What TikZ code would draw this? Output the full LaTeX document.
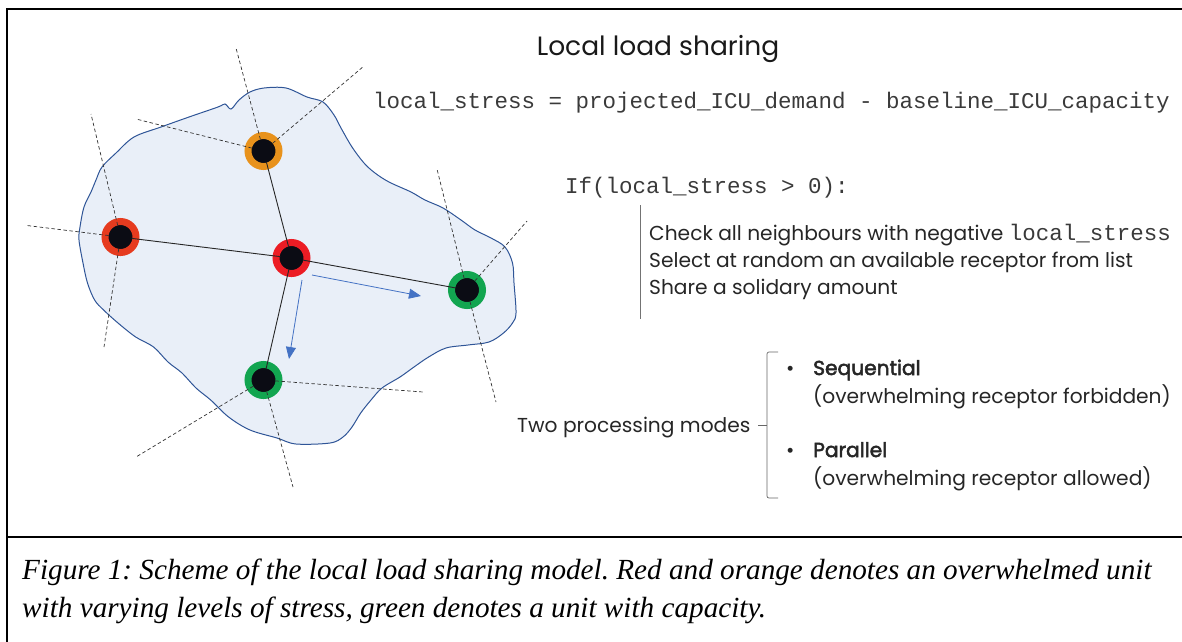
\documentclass[tikz,border=0pt]{standalone}
\usepackage{fontspec}
\setmainfont{Poppins}
\newfontfamily\codefont{Liberation Mono}
\newfontfamily\capfont{Liberation Serif}
\newfontfamily\medfont{Poppins}[FakeBold=2.5]
\usetikzlibrary{arrows.meta}
\frenchspacing
\definecolor{blobfill}{HTML}{E9EFF8}
\definecolor{blobline}{HTML}{2F5597}
\definecolor{arrowblue}{HTML}{4472C4}
\definecolor{ringorange}{HTML}{E8921C}
\definecolor{ringred}{HTML}{E63B1F}
\definecolor{ringredc}{HTML}{EC1C24}
\definecolor{ringgreen}{HTML}{12A550}
\definecolor{core}{HTML}{0B0C14}
\definecolor{txtgray}{HTML}{3A3A3A}
\tikzset{
  unit/.style={circle, draw=#1, line width=7pt, fill=core, minimum size=31pt, inner sep=0pt},
  conn/.style={line width=0.9pt, black!85},
  dline/.style={line width=0.7pt, black!80, dash pattern=on 3.5pt off 2.5pt},
  flow/.style={line width=0.8pt, arrowblue, -{Triangle[length=12pt,width=10pt]}},
  codetxt/.style={font=\codefont\fontsize{22.5}{26}\selectfont, text=txtgray, inner sep=0pt, anchor=base west},
  bodytxt/.style={font=\fontsize{20.2}{24}\selectfont, text=black!85, inner sep=0pt, anchor=base west},
  captxt/.style={font=\capfont\itshape\fontsize{29.2}{34}\selectfont, inner sep=0pt, anchor=base west},
  frame/.style={line width=2.5pt, black},
  brace/.style={line width=0.7pt, black!60, rounded corners=2pt},
}
\begin{document}
\begin{tikzpicture}[x=1pt, y=-1pt]
\useasboundingbox (0,0) rectangle (1182,641);
\clip (0,0) rectangle (1182,641);
% frame
\draw[frame] (1200,9) -- (7,9) -- (7,660);
\draw[frame] (7,537) -- (1200,537);
% blob
\draw[blobline, fill=blobfill, line width=1pt] plot[smooth cycle, tension=0.55] coordinates {
 (264,88) (286,88) (307,97) (323,102) (334,115) (341,128) (352,147) (364,163) (375,173)
 (389,182) (411,192) (425,200) (443,208) (461,220) (475,230) (491,238) (505,247) (512.5,263)
 (514,283) (516,313) (512.5,323) (503.5,333) (489,342) (468,345) (446,348) (428.6,357)
 (414,367) (400,377) (382,388) (371,400) (360.7,413) (352,427) (343,437) (330,443) (296,444)
 (277,438) (250,430) (228.6,417) (210.7,400) (196,388) (182,373) (168,362) (153.6,347)
 (135.7,337) (118,323) (103.6,310) (94.6,300) (87.5,283) (83,263) (79,240) (80,227) (84,207)
 (91,192) (96,180) (102,167) (116,153) (134,137) (161,127) (189,117) (218,107) (225,104)
 (231,109) (239,100) (250,92)};
% units
\node[unit=ringorange] (o) at (263.5,151) {};
\node[unit=ringred] (rl) at (120.5,237) {};
\node[unit=ringredc] (rc) at (291.5,258) {};
\node[unit=ringgreen] (gr) at (467,290) {};
\node[unit=ringgreen] (gb) at (263.5,380) {};
% free ends of dashed lines
\coordinate (o1) at (236,48);
\coordinate (o2) at (364,66);
\coordinate (o3) at (136,119);
\coordinate (l1) at (27,225.5);
\coordinate (l2) at (91,114);
\coordinate (l3) at (104,347);
\coordinate (g1) at (437,169);
\coordinate (g2) at (496,402);
\coordinate (g3) at (527,221);
\coordinate (b1) at (423,392);
\coordinate (b2) at (136,457);
\coordinate (b3) at (293,487);
% solid connectors
\draw[conn] (rl.center) -- (rc.center) -- (gr.center);
\draw[conn] (o.center) -- (rc.center) -- (gb.center);
% dashed lines
\foreach \a/\b in {o/o1, o/o2, o/o3, rl/l1, rl/l2, rl/l3, gr/g1, gr/g2, gr/g3, gb/b1, gb/b2, gb/b3}
  \draw[dline] (\a.center) -- (\b);
% redraw cores so lines stay beneath them
\foreach \n in {o, rl, rc, gr, gb}
  \fill[core] (\n.center) circle (11.5pt);
% flows
\coordinate (f1s) at (312,275);
\coordinate (f1e) at (421,296);
\coordinate (f2s) at (302,280);
\coordinate (f2e) at (289,359);
\draw[flow] (f1s) -- (f1e);
\draw[flow] (f2s) -- (f2e);
% texts
\node[font=\fontsize{26.5}{30}\selectfont, text=black!90, inner sep=0pt, anchor=base] (title) at (658,55) {Local load sharing};
\node[codetxt] (eq) at (373,108) {local\_stress = projected\_ICU\_demand - baseline\_ICU\_capacity};
\node[codetxt] (cond) at (565,193) {If(local\_stress > 0):};
\draw[line width=0.7pt, black!55] (640,205) -- (640,319);
\node[bodytxt] (s1) at (649,240) {Check all neighbours with negative {\codefont\fontsize{22.5}{26}\selectfont\color{txtgray}local\_stress}};
\node[bodytxt] (s2) at (649,267) {Select at random an available receptor from list};
\node[bodytxt] (s3) at (649,294) {Share a solidary amount};
\node[bodytxt] (modes) at (517,432) {Two processing modes};
\draw[brace] (778,352) -- (767,352) -- (767,498) -- (778,498);
\draw[line width=0.7pt, black!60] (758,425) -- (767,425);
\node[bodytxt] (b1) at (786,375) {\textbullet};
\node[bodytxt] (b2) at (786,457) {\textbullet};
\node[bodytxt] (seq) at (813,375) {\medfont Sequential};
\node[bodytxt] (seqd) at (813,403) {(overwhelming receptor forbidden)};
\node[bodytxt] (par) at (813,457) {\medfont Parallel};
\node[bodytxt] (pard) at (813,485) {(overwhelming receptor allowed)};
\node[captxt] (cap1) at (22,579) {Figure 1: Scheme of the local load sharing model. Red and orange denotes an overwhelmed unit};
\node[captxt] (cap2) at (22,617) {with varying levels of stress, green denotes a unit with capacity.};
\end{tikzpicture}
\end{document}
